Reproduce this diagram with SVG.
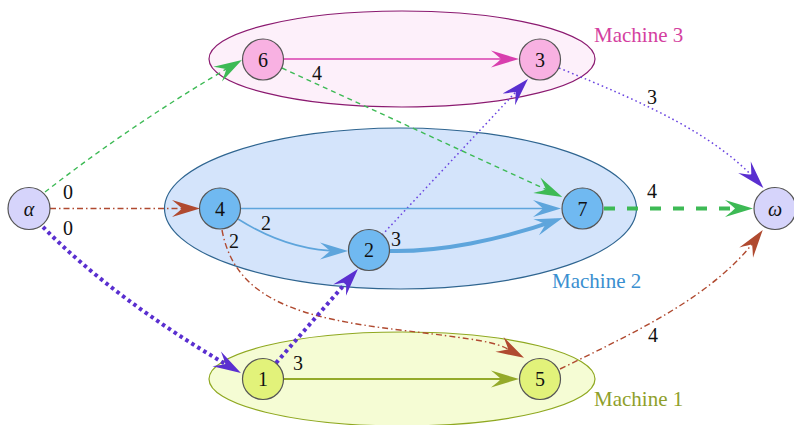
<svg xmlns="http://www.w3.org/2000/svg" width="794" height="425" viewBox="0 0 794 425">
<style>
.node circle{stroke:#555;stroke-width:1.2}
.lbl{font-family:"Liberation Serif","Times New Roman",serif;font-size:20px;fill:#111;text-anchor:middle}
.it{font-style:italic}
.mach{font-family:"Liberation Serif","Times New Roman",serif;font-size:21px}
.e{fill:none}
.green{stroke:#3dba55;stroke-width:1.4;stroke-dasharray:5 4}
.greenT{stroke:#3dba55;stroke-width:4;stroke-dasharray:11 12}
.brown{stroke:#b04a30;stroke-width:1.4;stroke-dasharray:6 3 1.5 3}
.purT{stroke:#5a2fd0;stroke-width:4;stroke-dasharray:3.5 3.5}
.pur{stroke:#6a45e0;stroke-width:1.5;stroke-dasharray:1.6 3}
.mag{stroke:#d83fae;stroke-width:1.6}
.blue{stroke:#5ea5dc;stroke-width:1.6}
.blueT{stroke:#5ea5dc;stroke-width:4}
.olive{stroke:#94aa2a;stroke-width:2}
</style>
<defs>
<path id="ah" d="M8,0 L-20,-8.5 Q-12,-2 -10,0 Q-12,2 -20,8.5 Z"/>
<marker id="mG" markerUnits="userSpaceOnUse" refX="0" refY="0" markerWidth="32" markerHeight="20" orient="auto" overflow="visible"><use href="#ah" fill="#3dba55"/></marker>
<marker id="mB" markerUnits="userSpaceOnUse" refX="0" refY="0" markerWidth="32" markerHeight="20" orient="auto" overflow="visible"><use href="#ah" fill="#b04a30"/></marker>
<marker id="mP" markerUnits="userSpaceOnUse" refX="0" refY="0" markerWidth="32" markerHeight="20" orient="auto" overflow="visible"><use href="#ah" fill="#5a2fd0"/></marker>
<marker id="mM" markerUnits="userSpaceOnUse" refX="0" refY="0" markerWidth="32" markerHeight="20" orient="auto" overflow="visible"><use href="#ah" fill="#d83fae"/></marker>
<marker id="mL" markerUnits="userSpaceOnUse" refX="0" refY="0" markerWidth="32" markerHeight="20" orient="auto" overflow="visible"><use href="#ah" fill="#5ea5dc"/></marker>
<marker id="mO" markerUnits="userSpaceOnUse" refX="0" refY="0" markerWidth="32" markerHeight="20" orient="auto" overflow="visible"><use href="#ah" fill="#94aa2a"/></marker>
</defs>
<rect width="794" height="425" fill="#fff"/>
<g id="machines">
<g id="machine3"><ellipse cx="402" cy="59" rx="193" ry="48" fill="#fdf0fa" stroke="#8b1a70" stroke-width="1.2"/><text class="mach" x="594" y="42" fill="#d43fa0">Machine 3</text></g>
<g id="machine2"><ellipse cx="400.5" cy="208.5" rx="236" ry="80.5" fill="#d4e4fb" stroke="#2f6590" stroke-width="1.2"/><text class="mach" x="552" y="288" fill="#3a8fd0">Machine 2</text></g>
<g id="machine1"><ellipse cx="402" cy="379" rx="193" ry="47" fill="#f5fcd4" stroke="#8fa820" stroke-width="1.2"/><text class="mach" x="594" y="406" fill="#8f9f2a">Machine 1</text></g>
</g>
<g id="connectors">
<path class="e brown" d="M50,208.5 L192,208.5" marker-end="url(#mB)"/>
<path class="e green" d="M45,192 Q135,122 235,64" marker-end="url(#mG)"/>
<path class="e purT" d="M43,227 Q115,300 234,369" marker-end="url(#mP)"/>
<path class="e mag" d="M284,59 L511,59" marker-end="url(#mM)"/>
<path class="e green" d="M282,68 L555,193.6" marker-end="url(#mG)"/>
<path class="e pur" d="M559,68 C650,105 715,135 758,182" marker-end="url(#mP)"/>
<path class="e pur" d="M382,235 L522.5,84.8" marker-end="url(#mP)"/>
<path class="e blue" d="M240,208.5 L553,208.5" marker-end="url(#mL)"/>
<path class="e blue" d="M238,219 C265,236 300,251 340,251" marker-end="url(#mL)"/>
<path class="e blueT" d="M390,251 C440,252 500,240 555,220.6" marker-end="url(#mL)"/>
<path class="e brown" d="M222,230 C235,300 300,318 400,330 S497,343 517,354" marker-end="url(#mB)"/>
<path class="e purT" d="M276,363 L352.7,275" marker-end="url(#mP)"/>
<path class="e olive" d="M284,379 L511,379" marker-end="url(#mO)"/>
<path class="e brown" d="M560,369 C640,330 715,295 758,236.5" marker-end="url(#mB)"/>
<path class="e greenT" d="M604,208.5 L745,208.5" marker-end="url(#mG)"/>
<g>
<text class="lbl" x="68" y="199">0</text>
<text class="lbl" x="68" y="235">0</text>
<text class="lbl" x="266" y="230">2</text>
<text class="lbl" x="234" y="248">2</text>
<text class="lbl" x="396" y="246">3</text>
<text class="lbl" x="317" y="80">4</text>
<text class="lbl" x="652" y="104">3</text>
<text class="lbl" x="652" y="198">4</text>
<text class="lbl" x="653" y="342">4</text>
<text class="lbl" x="298" y="370">3</text>
</g>
</g>
<g id="n-alpha" class="node"><circle cx="29" cy="208.5" r="21" fill="#d6d4fb"/><text class="lbl it" x="29" y="215.5">α</text></g>
<g id="n-omega" class="node"><circle cx="775" cy="208.5" r="21" fill="#d6d4fb"/><text class="lbl it" x="775" y="215.5">ω</text></g>
<g id="n4" class="node"><circle cx="220" cy="208.5" r="20.5" fill="#70b9f1"/><text class="lbl" x="220" y="215.5">4</text></g>
<g id="n2" class="node"><circle cx="369" cy="250" r="20.5" fill="#70b9f1"/><text class="lbl" x="369" y="257">2</text></g>
<g id="n7" class="node"><circle cx="582.5" cy="208.5" r="20.5" fill="#70b9f1"/><text class="lbl" x="582.5" y="215.5">7</text></g>
<g id="n6" class="node"><circle cx="263" cy="59.5" r="20.5" fill="#f8b1e2"/><text class="lbl" x="263" y="66.5">6</text></g>
<g id="n3" class="node"><circle cx="540" cy="59.5" r="20.5" fill="#f8b1e2"/><text class="lbl" x="540" y="66.5">3</text></g>
<g id="n1" class="node"><circle cx="263" cy="379" r="20.5" fill="#e2f27a"/><text class="lbl" x="263" y="386">1</text></g>
<g id="n5" class="node"><circle cx="540" cy="379" r="20.5" fill="#e2f27a"/><text class="lbl" x="540" y="386">5</text></g>
</svg>
